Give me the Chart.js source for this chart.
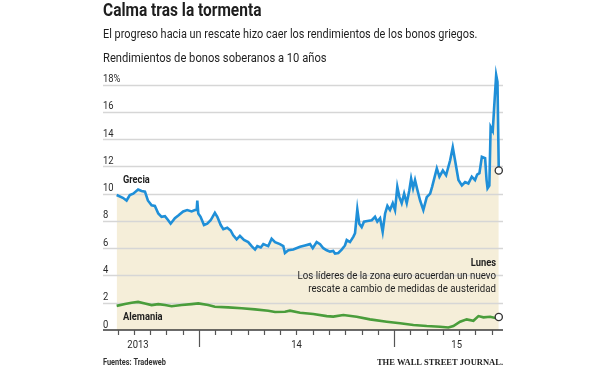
<!DOCTYPE html>
<html>
<head>
<meta charset="utf-8">
<script src="https://cdn.jsdelivr.net/npm/chart.js@4.4.1/dist/chart.umd.min.js"></script>
<style>
html,body{margin:0;padding:0;background:#fff;}
#wrap{position:relative;width:600px;height:370px;}
</style>
</head>
<body>
<div id="wrap"><canvas id="c" width="600" height="370"></canvas></div>
<script>
// ---- DATA (x = months from Jan 2014) ----
const greeceMonth = [-5.06,-4.68,-4.45,-4.25,-4.04,-3.74,-3.53,-3.32,-3.14,-2.91,-2.71,-2.50,-2.30,-2.09,-1.89,-1.74,-1.48,-1.27,-0.97,-0.72,-0.45,-0.25,-0.14,-0.10,-0.07,-0.04,0.10,0.31,0.51,0.72,0.98,1.13,1.34,1.50,1.74,1.95,2.11,2.32,2.52,2.77,3.03,3.24,3.45,3.59,3.80,3.96,4.26,4.47,4.68,4.98,5.19,5.29,5.50,5.80,6.22,6.52,6.83,7.00,7.24,7.45,7.65,7.86,8.06,8.26,8.37,8.57,8.78,8.98,9.09,9.29,9.50,9.60,9.74,9.86,10.01,10.15,10.36,10.63,10.83,10.97,11.14,11.30,11.45,11.59,11.75,11.92,12.06,12.20,12.33,12.47,12.62,12.78,12.94,13.05,13.17,13.29,13.43,13.60,13.80,14.01,14.22,14.34,14.63,14.79,15.00,15.20,15.45,15.61,15.75,15.96,16.17,16.37,16.57,16.78,16.98,17.11,17.25,17.40,17.60,17.69,17.75,17.86,17.94,18.07,18.15,18.28,18.36,18.44];
const greeceYield = [9.9,9.7,9.5,9.9,10.0,10.3,10.2,10.15,9.5,9.15,9.1,8.55,8.3,8.35,8.05,7.8,8.2,8.4,8.7,8.8,8.7,8.8,8.8,9.5,9.5,8.55,8.3,7.7,7.8,8.05,8.6,8.3,7.7,7.4,7.5,7.3,6.95,6.65,6.9,6.6,6.45,6.15,5.9,6.15,6.05,6.3,6.15,6.7,6.45,6.3,6.15,5.65,5.85,5.9,6.1,6.2,6.3,6.0,6.45,6.3,6.0,5.85,5.75,5.8,5.6,5.65,5.9,6.2,6.6,6.45,6.85,7.1,8.85,7.8,7.55,7.95,8.0,8.05,8.3,7.95,8.2,7.2,8.55,9.1,8.8,9.3,8.8,10.5,9.75,9.3,10.0,9.3,10.25,11.1,10.4,11.0,10.3,9.5,8.8,9.75,10.0,10.5,11.85,11.25,11.7,11.35,12.45,13.4,12.45,11.0,10.6,10.85,10.75,11.25,11.0,11.4,11.5,12.7,12.6,11.0,10.4,10.6,14.9,14.6,16.2,18.7,18.2,11.7];
const germanyMonth = [-5.06,-4.55,-4.14,-3.74,-3.32,-2.91,-2.50,-2.09,-1.68,-1.06,-0.45,-0.04,0.57,0.98,1.80,2.63,3.45,4.26,4.68,5.29,5.60,6.22,7.03,7.86,8.26,8.88,9.70,10.52,11.55,12.37,13.19,14.01,14.83,15.34,15.65,16.06,16.47,16.88,17.19,17.50,17.91,18.22,18.44];
const germanyYield = [1.77,1.9,2.0,2.06,1.95,1.83,1.9,1.83,1.74,1.83,1.9,1.95,1.83,1.71,1.66,1.59,1.51,1.41,1.32,1.34,1.42,1.27,1.17,1.02,0.98,1.1,0.97,0.78,0.61,0.49,0.37,0.29,0.24,0.18,0.29,0.61,0.78,0.68,1.02,0.93,0.97,0.88,0.95];
const yTicks = [0,2,4,6,8,10,12,14,16,18];
const xLabels = ['2013','14','15'];
const xLabelMonth = [-3.75,6.0,15.85];
const majorTickMonths = [0,12];
const firstTickMonth = -5, lastTickMonth = 18;

// ---- font selection ----
function avail(f){
  const c=document.createElement('canvas').getContext('2d');
  const s='mmmmwwwiiilll 0123456789 Calma';
  c.font='72px monospace'; const a=c.measureText(s).width;
  c.font='72px "'+f+'", monospace'; const b=c.measureText(s).width;
  return a!==b;
}
const NARROW = avail('Liberation Sans Narrow');
const SANS = NARROW ? '"Liberation Sans Narrow"' : 'Roboto, "Liberation Sans", sans-serif';
const SERIF = '"Liberation Serif", "DejaVu Serif", serif';

const BLUE='#1f8fd8', GREEN='#4a9d3b', BEIGE='#f5eed9', GRID='#d6d6d6', AXIS='#3a3a3a', TXT='#1e1e1e';

const pts=(xs,ys)=>xs.map((x,i)=>({x:x,y:ys[i]}));
const lastOnly=(n,r)=>ctx=>ctx.dataIndex===n-1?r:0;

// condensed text helper (horizontal squeeze to mimic the narrow newspaper face)
function txt(ctx,s,x,y,font,align,sx){
  ctx.save();
  ctx.font=font; ctx.textAlign=align; ctx.textBaseline='alphabetic';
  ctx.translate(x,y); ctx.scale(NARROW?1:sx,1);
  ctx.fillText(s,0,0);
  ctx.restore();
}

const deco = {
  id:'deco',
  beforeDatasetsDraw(chart){
    const {ctx, chartArea:a, scales:{x,y}} = chart;
    ctx.save();
    ctx.strokeStyle=GRID; ctx.lineWidth=1.3;
    yTicks.forEach(v=>{ if(v===0) return;
      const py=Math.round(y.getPixelForValue(v))+0.5;
      ctx.beginPath(); ctx.moveTo(a.left,py); ctx.lineTo(a.right,py); ctx.stroke();
    });
    ctx.restore();
  },
  afterDatasetsDraw(chart){
    const {ctx, chartArea:a, scales:{x,y}} = chart;
    ctx.save();
    const py0=y.getPixelForValue(0);
    ctx.strokeStyle=AXIS; ctx.lineWidth=1.5;
    ctx.beginPath(); ctx.moveTo(a.left,py0); ctx.lineTo(a.right,py0); ctx.stroke();
    ctx.lineWidth=1.2; ctx.strokeStyle='#555';
    for(let m=firstTickMonth;m<=lastTickMonth;m++){
      const px=Math.round(x.getPixelForValue(m))+0.5;
      const major=majorTickMonths.includes(m);
      ctx.beginPath(); ctx.moveTo(px,py0); ctx.lineTo(px,py0+(major?17:5)); ctx.stroke();
    }
    ctx.restore();
  },
  afterDraw(chart){
    const {ctx, chartArea:a, scales:{x,y}} = chart;
    ctx.save();
    ctx.fillStyle=TXT;
    // headings
    txt(ctx,'Calma tras la tormenta',103,16,'bold 18px '+SANS,'left',0.86);
    txt(ctx,'El progreso hacia un rescate hizo caer los rendimientos de los bonos griegos.',103,37.5,'12px '+SANS,'left',0.91);
    txt(ctx,'Rendimientos de bonos soberanos a 10 años',103,62,'13px '+SANS,'left',0.86);
    // y labels
    ctx.fillStyle='#2a2a2a';
    yTicks.forEach(v=>{
      const py=y.getPixelForValue(v);
      txt(ctx,v===18?'18%':String(v),103,py-2.5,'11.5px '+SANS,'left',0.82);
    });
    // x labels
    xLabels.forEach((t,i)=>txt(ctx,t,x.getPixelForValue(xLabelMonth[i]),347.5,'11.5px '+SANS,'center',0.82));
    // series labels
    ctx.fillStyle=TXT;
    txt(ctx,'Grecia',123,183,'bold 11px '+SANS,'left',0.84);
    txt(ctx,'Alemania',123,320,'bold 11px '+SANS,'left',0.85);
    // annotation
    txt(ctx,'Lunes',496,265.5,'bold 11px '+SANS,'right',0.85);
    txt(ctx,'Los líderes de la zona euro acuerdan un nuevo',496,278.5,'11px '+SANS,'right',0.88);
    txt(ctx,'rescate a cambio de medidas de austeridad',496,291.5,'11px '+SANS,'right',0.88);
    // footer
    ctx.fillStyle='#333';
    txt(ctx,'Fuentes: Tradeweb',103,365,'bold 9px '+SANS,'left',0.82);
    ctx.fillStyle='#222';
    txt(ctx,'THE WALL STREET JOURNAL.',503,365,'bold 8.5px '+SERIF,'right',1);
    ctx.restore();
  }
};

new Chart(document.getElementById('c'),{
  type:'line',
  data:{datasets:[
    {label:'Grecia',data:pts(greeceMonth,greeceYield),borderColor:BLUE,borderWidth:2.6,
     fill:'origin',backgroundColor:BEIGE,tension:0,clip:false,
     pointRadius:lastOnly(greeceMonth.length,3.6),pointBorderColor:'#333',pointBackgroundColor:'#fff',pointBorderWidth:1.3,pointHoverRadius:0},
    {label:'Alemania',data:pts(germanyMonth,germanyYield),borderColor:GREEN,borderWidth:2.6,
     fill:false,tension:0,clip:false,
     pointRadius:lastOnly(germanyMonth.length,3.6),pointBorderColor:'#333',pointBackgroundColor:'#fff',pointBorderWidth:1.3,pointHoverRadius:0}
  ]},
  options:{
    responsive:false,animation:false,devicePixelRatio:1,
    layout:{padding:{left:103,right:97,top:71,bottom:40}},
    scales:{
      x:{type:'linear',min:-5.9,max:18.7,display:false},
      y:{type:'linear',min:0,max:19,display:false}
    },
    plugins:{legend:{display:false},tooltip:{enabled:false},title:{display:false},
      filler:{drawTime:'beforeDatasetsDraw'}},
    events:[]
  },
  plugins:[deco]
});
</script>
</body>
</html>
